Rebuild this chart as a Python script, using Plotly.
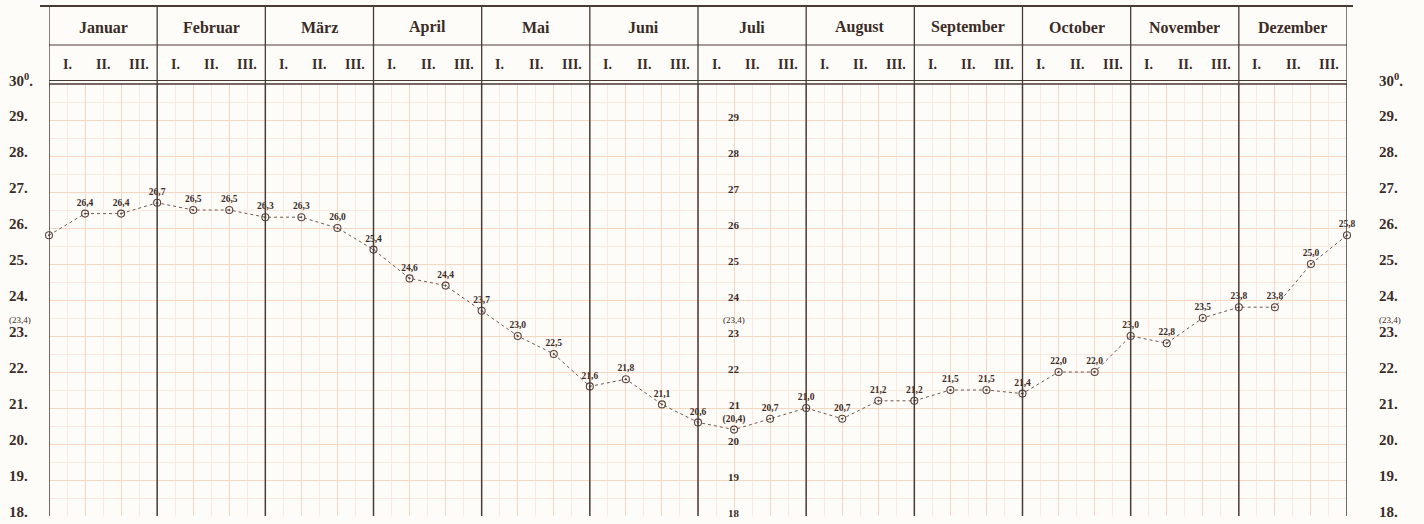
import plotly.graph_objects as go

months = ["Januar", "Februar", "März", "April", "Mai", "Juni", "Juli",
          "August", "September", "October", "November", "Dezember"]
decades = ["I.", "II.", "III."]
# value at the start of January (repeat of the last December decade)
start_value = 25.8
# values at the end of each decade (I., II., III.) of each month
values = [26.4, 26.4, 26.7,
          26.5, 26.5, 26.3,
          26.3, 26.0, 25.4,
          24.6, 24.4, 23.7,
          23.0, 22.5, 21.6,
          21.8, 21.1, 20.6,
          20.4, 20.7, 21.0,
          20.7, 21.2, 21.2,
          21.5, 21.5, 21.4,
          22.0, 22.0, 23.0,
          22.8, 23.5, 23.8,
          23.8, 25.0, 25.8]
min_decade = 18          # Juli I. (0-based index in values) shown in brackets
y_ticks = [30, 29, 28, 27, 26, 25, 24, 23, 22, 21, 20, 19, 18]
inner_ticks = [29, 28, 27, 26, 25, 24, 23, 22, 21, 20, 19, 18]
mean_value = 23.4
mean_label = "(23,4)"

INK = "#3b2c27"
LINE = "#4a3a34"
PAPER = "#fefcf9"
GRID = "#f5d8c4"
MINOR = "#fae9de"
SERIF = "Liberation Serif"

xs = list(range(len(values) + 1))
ys = [start_value] + values
labels = [" "]
for i, v in enumerate(values):
    s = f"{v:.1f}".replace(".", ",")
    labels.append(f"({s})" if i == min_decade else s)

fig = go.Figure()
fig.add_trace(go.Scatter(
    x=xs, y=ys, mode="lines+markers+text", text=labels,
    textposition="top center",
    textfont=dict(family=SERIF, size=9.5, color=INK, weight="bold"),
    line=dict(color="#6e5850", width=1, dash="dot"),
    marker=dict(symbol="circle-open-dot", size=7, color="#5a4540",
                line=dict(width=1.1, color="#5a4540")),
    hoverinfo="skip", showlegend=False, cliponaxis=False))

n_dec = len(values)
fig.update_layout(
    width=1424, height=524,
    margin=dict(l=49, r=77, t=84, b=8),
    paper_bgcolor=PAPER, plot_bgcolor=PAPER,
    xaxis=dict(range=[0, n_dec], showticklabels=False, zeroline=False,
               dtick=1, tick0=0, showgrid=True, gridcolor=GRID, gridwidth=1,
               minor=dict(dtick=0.5, showgrid=True, gridcolor=MINOR, gridwidth=1),
               ticks=""),
    yaxis=dict(range=[18, 30], showticklabels=False, zeroline=False,
               dtick=1, tick0=18, showgrid=True, gridcolor=GRID, gridwidth=1,
               minor=dict(dtick=0.5, showgrid=True, gridcolor=MINOR, gridwidth=1),
               ticks=""),
)

H = 432.0
def yp(px):
    return 1 + (84 - px) / H

shapes = []
for m in range(len(months) + 1):
    x = m * 3
    shapes.append(dict(type="line", xref="x", yref="y", x0=x, x1=x, y0=18, y1=30,
                       line=dict(color=LINE, width=1.5), layer="above"))
    shapes.append(dict(type="line", xref="x", yref="paper", x0=x, x1=x,
                       y0=yp(84), y1=yp(7), line=dict(color=LINE, width=1.3)))
shapes.append(dict(type="line", xref="paper", yref="paper", x0=(40 - 49) / 1298,
                   x1=(1353 - 49) / 1298, y0=yp(6), y1=yp(6),
                   line=dict(color=LINE, width=2.2)))
shapes.append(dict(type="line", xref="x", yref="paper", x0=0, x1=n_dec,
                   y0=yp(45), y1=yp(45), line=dict(color=LINE, width=1.2)))
shapes.append(dict(type="line", xref="x", yref="paper", x0=0, x1=n_dec,
                   y0=yp(80.5), y1=yp(80.5), line=dict(color=LINE, width=1.2)))
shapes.append(dict(type="line", xref="x", yref="paper", x0=0, x1=n_dec,
                   y0=yp(84), y1=yp(84), line=dict(color=LINE, width=1.6)))
fig.update_layout(shapes=shapes)

ann = []
for m, name in enumerate(months):
    ann.append(dict(x=m * 3 + 1.5, y=yp(27), xref="x", yref="paper", text=name,
                    xanchor="center", yanchor="middle", showarrow=False,
                    font=dict(family=SERIF, size=16, color=INK, weight="bold")))
    for d, dn in enumerate(decades):
        ann.append(dict(x=m * 3 + d + 0.5, y=yp(64), xref="x", yref="paper", text=dn,
                        xanchor="center", yanchor="middle", showarrow=False,
                        font=dict(family=SERIF, size=14, color=INK, weight="bold")))

side_x = [(7 - 49) / 1298, (1377 - 49) / 1298]
for t in y_ticks:
    txt = f"{t}<sup>0</sup>." if t == 30 else f"{t}."
    for xp in side_x:
        ann.append(dict(x=xp, y=t, xref="paper", yref="y", text=txt, xanchor="left",
                        yanchor="middle", yshift=4, showarrow=False,
                        font=dict(family=SERIF, size=15, color=INK, weight="bold")))
for t in inner_ticks:
    ann.append(dict(x=min_decade + 1, y=t, xref="x", yref="y", text=str(t), yshift=3,
                    xanchor="center", yanchor="middle", showarrow=False,
                    font=dict(family=SERIF, size=11, color=INK, weight="bold")))

for xp in side_x:
    ann.append(dict(x=xp, y=mean_value, xref="paper", yref="y", text=mean_label,
                    xanchor="left", yanchor="middle", yshift=2, showarrow=False,
                    font=dict(family=SERIF, size=9, color=INK)))
ann.append(dict(x=min_decade + 1, y=mean_value, xref="x", yref="y", text=mean_label,
                xanchor="center", yanchor="middle", yshift=2, showarrow=False,
                font=dict(family=SERIF, size=9, color=INK)))
fig.update_layout(annotations=ann)

fig.write_html("out.html", config={"displayModeBar": False},
               post_script="document.body.style.margin='0';document.body.style.overflow='hidden';")
